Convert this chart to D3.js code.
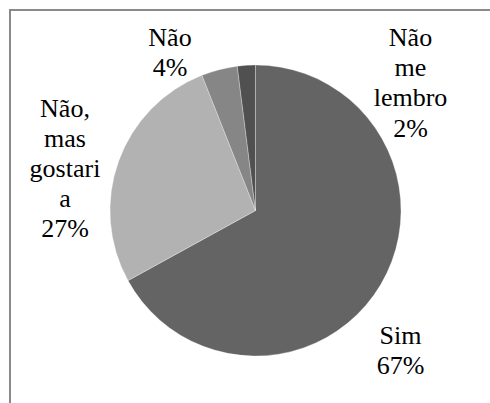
<!DOCTYPE html>
<html><head><meta charset="utf-8">
<script src="https://cdn.jsdelivr.net/npm/d3@7"></script>
<style>html,body{margin:0;padding:0;background:#fff;}</style>
</head><body>
<svg id="chart" width="490" height="403" style="font-family:'Liberation Serif'"></svg>
<script>
const categories = ["Sim", "Não, mas gostaria", "Não", "Não me lembro"];
const values = [67, 27, 4, 2];
const labelLines = [["Sim", "67%"], ["Não,", "mas", "gostari", "a", "27%"], ["Não", "4%"], ["Não", "me", "lembro", "2%"]];
const colors = ["#646464", "#b2b2b2", "#868686", "#505050"];

const svg = d3.select("#chart");
// frame (only top and left edges visible)
svg.append("path").attr("d", "M10,403 V10 H490").attr("fill", "none").attr("stroke", "#8a8a8a").attr("stroke-width", 2);

const cx = 255.5, cy = 210.5, r = 145.5;
const pie = d3.pie().sort(null).value(d => d)(values);
const arc = d3.arc().innerRadius(0).outerRadius(r);
const g = svg.append("g").attr("transform", `translate(${cx},${cy})`);
g.selectAll("path").data(pie).enter().append("path")
  .attr("d", arc).attr("fill", (d, i) => colors[i])
  .attr("stroke", "#ffffff").attr("stroke-width", 0.5).attr("stroke-opacity", 0.6);

// label anchors: centre x and first baseline, relative to pie centre
const labelPos = [[145, 133], [-190.5, -94], [-85.5, -164.5], [155, -164.5]];
const lh = 30.2;
labelLines.forEach((lines, i) => {
  lines.forEach((s, j) => {
    svg.append("text")
      .attr("x", cx + labelPos[i][0]).attr("y", cy + labelPos[i][1] + j * lh)
      .attr("text-anchor", "middle")
      .style("font-family", '"Liberation Serif"').style("font-size", "26px")
      .text(s);
  });
});
</script>
</body></html>
